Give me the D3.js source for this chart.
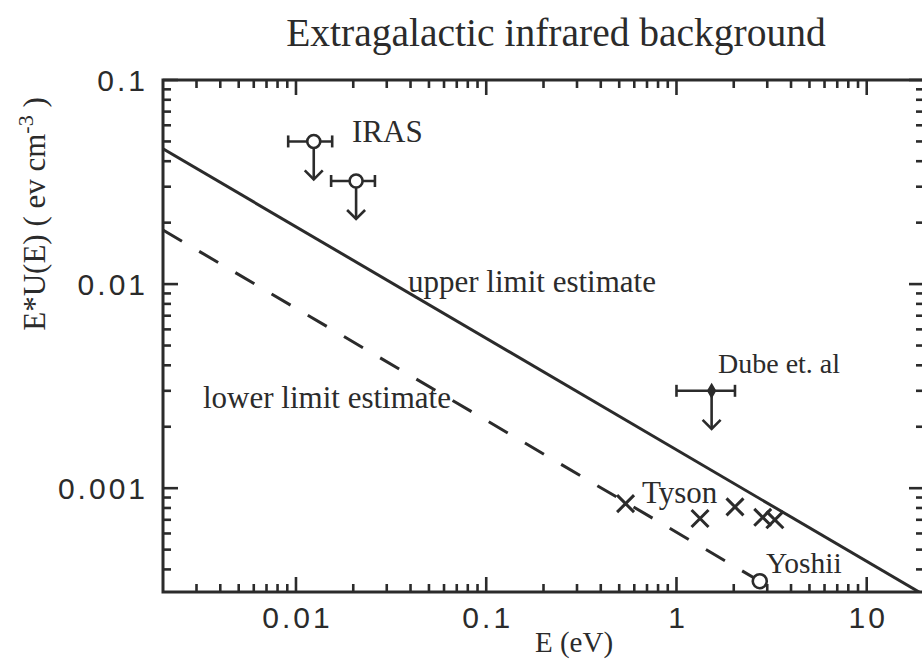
<!DOCTYPE html>
<html>
<head>
<meta charset="utf-8">
<script src="https://cdn.jsdelivr.net/npm/d3@7"></script>
<style>
  html, body { margin: 0; padding: 0; background: #fff; }
  svg { display: block; }
</style>
</head>
<body>
<svg id="chart" width="922" height="663"></svg>
<script>
// ---- data -------------------------------------------------------------
const xMajorTicks = [0.01, 0.1, 1, 10];
const xTickLabels = ["0.01", "0.1", "1", "10"];
const yMajorTicks = [0.1, 0.01, 0.001];
const yTickLabels = ["0.1", "0.01", "0.001"];

// model estimates (power laws, straight in log-log)
const upperLimitE = [0.002, 20];
const upperLimitU = [0.046, 0.0003];
const lowerLimitE = [0.002, 2.74];
const lowerLimitU = [0.0184, 0.00035];

// IRAS upper limits (100 and 60 micron bands)
const irasE   = [0.0124, 0.0207];
const irasELo = [0.0091, 0.0153];
const irasEHi = [0.0155, 0.026];
const irasU   = [0.05, 0.032];

// Dube et al. upper limit
const dubeE   = [1.53];
const dubeELo = [1.0];
const dubeEHi = [2.03];
const dubeU   = [0.003];

// Tyson measurements
const tysonE = [0.54, 1.33, 2.03, 2.84, 3.29];
const tysonU = [0.00084, 0.00071, 0.00081, 0.00072, 0.00070];

// Yoshii point
const yoshiiE = [2.74];
const yoshiiU = [0.00035];

// ---- layout -----------------------------------------------------------
const ink = "#2b2b2b";
const serif = "'Liberation Serif', 'Times New Roman', serif";
const sans = "'Liberation Sans', Arial, sans-serif";
const plotL = 163, plotR = 924, plotT = 80, plotB = 592;

const svg = d3.select("#chart");
const x = d3.scaleLog().domain([0.002, 20]).range([plotL, plotR]);
const y = d3.scaleLog().domain([0.00031, 0.1]).range([plotB, plotT]);

// minor tick values: 2..9 within each decade
function minorTicks(domain) {
  const out = [];
  for (let p = -5; p <= 2; p++) {
    for (let m = 2; m <= 9; m++) {
      const v = +(m * Math.pow(10, p)).toPrecision(3);
      if (v > domain[0] * 1.0001 && v < domain[1] * 0.9999) out.push(v);
    }
  }
  return out;
}
const xMinor = minorTicks(x.domain());
const yMinor = minorTicks(y.domain());
const majorLen = 15, minorLen = 8;

// inward tick marks on all four sides
const tickG = svg.append("g").attr("stroke", ink).attr("stroke-width", 2.6);
function xTicks(values, len) {
  tickG.selectAll(null).data(values).join("line")
    .attr("x1", d => x(d)).attr("x2", d => x(d))
    .attr("y1", plotB).attr("y2", plotB - len);
  tickG.selectAll(null).data(values).join("line")
    .attr("x1", d => x(d)).attr("x2", d => x(d))
    .attr("y1", plotT).attr("y2", plotT + len);
}
function yTicks(values, len) {
  tickG.selectAll(null).data(values).join("line")
    .attr("y1", d => y(d)).attr("y2", d => y(d))
    .attr("x1", plotL).attr("x2", plotL + len);
  tickG.selectAll(null).data(values).join("line")
    .attr("y1", d => y(d)).attr("y2", d => y(d))
    .attr("x1", plotR).attr("x2", plotR - len);
}
xTicks(xMinor, minorLen);
xTicks(xMajorTicks, majorLen);
yTicks(yMinor, minorLen);
yTicks(yMajorTicks, majorLen);

// tick labels
svg.append("g").selectAll("text").data(xMajorTicks).join("text")
  .attr("x", d => x(d) + 1.5).attr("y", plotB + 36)
  .attr("text-anchor", "middle")
  .attr("font-family", sans).attr("font-size", 30).attr("fill", ink)
  .attr("letter-spacing", 3)
  .text((d, i) => xTickLabels[i]);

svg.append("g").selectAll("text").data(yMajorTicks).join("text")
  .attr("x", plotL - 15).attr("y", d => y(d)).attr("dy", "0.36em")
  .attr("text-anchor", "end")
  .attr("font-family", sans).attr("font-size", 30).attr("fill", ink)
  .attr("letter-spacing", 3)
  .text((d, i) => yTickLabels[i]);

// frame
svg.append("rect")
  .attr("x", plotL).attr("y", plotT)
  .attr("width", plotR - plotL).attr("height", plotB - plotT)
  .attr("fill", "none").attr("stroke", ink).attr("stroke-width", 3);

// ---- estimate lines ---------------------------------------------------
svg.append("clipPath").attr("id", "plot-clip")
  .append("rect").attr("x", plotL).attr("y", plotT)
  .attr("width", plotR - plotL).attr("height", plotB - plotT);

const line = d3.line().x(d => x(d[0])).y(d => y(d[1]));
const plot = svg.append("g").attr("clip-path", "url(#plot-clip)");

plot.append("path")
  .datum(upperLimitE.map((e, i) => [e, upperLimitU[i]]))
  .attr("d", line).attr("fill", "none")
  .attr("stroke", ink).attr("stroke-width", 3);

plot.append("path")
  .datum(lowerLimitE.map((e, i) => [e, lowerLimitU[i]]))
  .attr("d", line).attr("fill", "none")
  .attr("stroke", ink).attr("stroke-width", 3)
  .attr("stroke-dasharray", "22 20");

// ---- upper-limit markers with horizontal bars and down arrows ---------
const capH = 6, arrowLen = 38, headW = 9, headH = 9;
function limitMarker(E, ELo, EHi, U, shape) {
  const g = svg.append("g").attr("stroke", ink).attr("stroke-width", 2.6).attr("fill", "none");
  E.forEach((e, i) => {
    const cx = x(e), cy = y(U[i]);
    const x0 = x(ELo[i]), x1 = x(EHi[i]);
    g.append("line").attr("x1", x0).attr("x2", x1).attr("y1", cy).attr("y2", cy);
    g.append("line").attr("x1", x0).attr("x2", x0).attr("y1", cy - capH).attr("y2", cy + capH);
    g.append("line").attr("x1", x1).attr("x2", x1).attr("y1", cy - capH).attr("y2", cy + capH);
    const tip = cy + arrowLen;
    g.append("line").attr("x1", cx).attr("x2", cx).attr("y1", cy).attr("y2", tip);
    g.append("path").attr("d", `M${cx - headW},${tip - headH}L${cx},${tip}L${cx + headW},${tip - headH}`);
    if (shape === "circle") {
      g.append("circle").attr("cx", cx).attr("cy", cy).attr("r", 6.5).attr("fill", "#fff");
    } else {
      g.append("path")
        .attr("d", d3.symbol().type(d3.symbolDiamond).size(50)())
        .attr("transform", `translate(${cx},${cy})`)
        .attr("fill", ink).attr("stroke-width", 1.5);
    }
  });
}
limitMarker(irasE, irasELo, irasEHi, irasU, "circle");
limitMarker(dubeE, dubeELo, dubeEHi, dubeU, "diamond");

// Tyson crosses
svg.append("g").selectAll("path")
  .data(tysonE.map((e, i) => [e, tysonU[i]]))
  .join("path")
  .attr("transform", d => `translate(${x(d[0])},${y(d[1])}) rotate(45)`)
  .attr("d", "M-12,0H12M0,-12V12")
  .attr("stroke", ink).attr("stroke-width", 3).attr("fill", "none");

// Yoshii open circle
svg.append("g").selectAll("circle")
  .data(yoshiiE.map((e, i) => [e, yoshiiU[i]]))
  .join("circle")
  .attr("cx", d => x(d[0])).attr("cy", d => y(d[1])).attr("r", 7)
  .attr("fill", "#fff").attr("stroke", ink).attr("stroke-width", 2.6);

// ---- annotations ------------------------------------------------------
function label(txt, px, py, size, anchor) {
  svg.append("text").attr("x", px).attr("y", py)
    .attr("font-family", serif).attr("font-size", size)
    .attr("fill", ink).attr("text-anchor", anchor || "start").text(txt);
}
label("Extragalactic infrared background", 556, 46, 39.5, "middle");
label("IRAS", 352, 142, 31);
label("upper limit estimate", 408, 292, 31);
label("lower limit estimate", 203, 408, 31);
label("Dube et. al", 718, 373, 28);
label("Tyson", 642, 503, 31);
label("Yoshii", 766, 573, 29.5);
label("E (eV)", 574, 652, 29, "middle");

// y-axis title with superscript
const yt = svg.append("text")
  .attr("transform", "translate(45,214) rotate(-90)")
  .attr("text-anchor", "middle")
  .attr("font-family", serif).attr("font-size", 31).attr("fill", ink);
yt.append("tspan").text("E*U(E) ( ev cm");
yt.append("tspan").attr("dy", -12).attr("font-size", 22).text("-3");
yt.append("tspan").attr("dy", 12).text(" )");
</script>
</body>
</html>
